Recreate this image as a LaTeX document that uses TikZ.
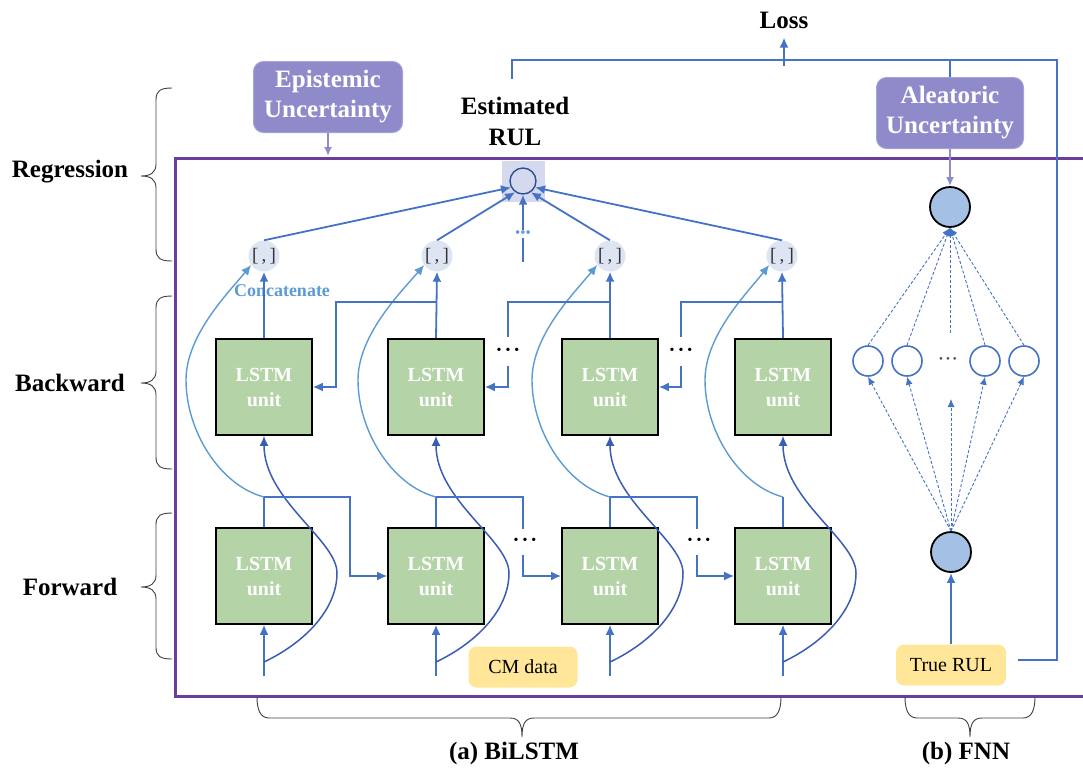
\documentclass[tikz,border=0pt]{standalone}
\usepackage{fontspec}
\setmainfont{Liberation Serif}
\usetikzlibrary{arrows.meta,calc}
\definecolor{mblue}{HTML}{4472C4}
\definecolor{lblue}{HTML}{5B9BD5}
\definecolor{dblue}{HTML}{3A5CB5}
\definecolor{fpurple}{HTML}{6A3D9A}
\definecolor{lav}{HTML}{8F8BCB}
\definecolor{lgreen}{HTML}{B4D3A6}
\definecolor{yel}{HTML}{FFE699}
\definecolor{concf}{HTML}{DDE4F2}
\definecolor{estf}{HTML}{D5D9EE}
\definecolor{estc}{HTML}{2F4F8F}
\definecolor{ofill}{HTML}{A4C0E4}
\newcommand\myvbrace[4]{% x0 ytop ybot ytip
\draw[brc] (#1,#2) .. controls (#1-12,#2) and (#1-16,#2+3) .. (#1-16,#2+12) -- (#1-16,#4-12) .. controls (#1-16,#4-3) and (#1-22,#4) .. (#1-31,#4) .. controls (#1-22,#4) and (#1-16,#4+3) .. (#1-16,#4+12) -- (#1-16,#3-12) .. controls (#1-16,#3-3) and (#1-12,#3) .. (#1,#3);}
\newcommand\myhbrace[4]{% y0 xleft xright xtip
\draw[brc] (#2,#1) .. controls (#2,#1+12) and (#2+3,#1+21) .. (#2+12,#1+21) -- (#4-12,#1+21) .. controls (#4-3,#1+21) and (#4,#1+27) .. (#4,#1+40) .. controls (#4,#1+27) and (#4+3,#1+21) .. (#4+12,#1+21) -- (#3-12,#1+21) .. controls (#3-3,#1+21) and (#3,#1+12) .. (#3,#1);}
\begin{document}
\begin{tikzpicture}[x=1pt,y=-1pt,
  lstm/.style={draw=black, line width=1.6pt, fill=lgreen, minimum width=96pt, minimum height=96pt, inner sep=0pt, text=white, font=\bfseries\fontsize{20}{25}\selectfont, align=center},
  conc/.style={circle, fill=concf, minimum size=31pt, inner sep=0pt, text=black!80, font=\fontsize{19}{19}\selectfont},
  conn/.style={draw=mblue, line width=1.8pt},
  arr/.style={conn, -{Latex[length=10pt,width=9pt]}},
  dcurve/.style={draw=dblue, line width=1.5pt, -{Latex[length=10pt,width=9pt]}},
  lcurve/.style={draw=lblue, line width=1.4pt, -{Latex[length=10pt,width=9pt]}},
  lab/.style={font=\bfseries\fontsize{25}{31}\selectfont, align=center, inner sep=2pt},
  unc/.style={rounded corners=10pt, fill=lav, draw=lav!80!white, line width=1pt, text=white, minimum height=71pt, inner sep=0pt, font=\bfseries\fontsize{25}{30}\selectfont, align=center},
  lavarr/.style={draw=lav, line width=2pt, -{Latex[length=9pt,width=8pt]}},
  databox/.style={rounded corners=8pt, fill=yel, font=\fontsize{20}{20}\selectfont, minimum height=41pt, inner sep=0pt},
  hid/.style={circle, draw=mblue, line width=1.6pt, fill=white, minimum size=30pt, inner sep=0pt},
  outn/.style={circle, draw=black, line width=1.8pt, fill=ofill, minimum size=40pt, inner sep=0pt},
  dsharr/.style={draw=mblue, line width=0.9pt, dash pattern=on 3pt off 2pt, -{Latex[length=8pt,width=7pt]}},
  lossl/.style={draw=mblue, line width=2.4pt},
  brc/.style={draw=black!75, line width=0.9pt},
  dots/.style={inner sep=0pt, font=\fontsize{14}{14}\selectfont}
]
\useasboundingbox (0,0) rectangle (1083,772);

% frame
\draw[fpurple, line width=3pt] (1090,158) -- (175,158) -- (175,696) -- (1090,696);

% side labels and braces
\node[lab] (lreg) at (70,172) {Regression};
\node[lab] (lbwd) at (70,383) {Backward};
\node[lab] (lfwd) at (70,587) {Forward};
\myvbrace{172}{88}{261}{176}
\myvbrace{172}{296}{469}{383}
\myvbrace{172}{513}{659}{587}
\myhbrace{697}{257}{781}{522}
\myhbrace{697}{905}{1035}{970}
\node[lab] (labA) at (514,753) {(a) BiLSTM};
\node[lab] (labB) at (966,753) {(b) FNN};

% top texts and boxes
\node[lab] (loss) at (784,20) {Loss};
\node[lab] (estl) at (515,121) {Estimated\\RUL};
\node[unc, minimum width=149pt] (ep) at (328,97) {Epistemic\\Uncertainty};
\node[unc, minimum width=147pt] (al) at (950,113) {Aleatoric\\Uncertainty};

% estimated RUL node
\node[fill=estf, minimum width=43pt, minimum height=41pt, inner sep=0pt] (estbg) at (523,181) {};
\node[circle, draw=estc, line width=1.4pt, minimum size=26pt, inner sep=0pt] (est) at (523,181) {};

% concat nodes
\node[conc] (c1) at (264,256) {[\,,\,]};
\node[conc] (c2) at (437,256) {[\,,\,]};
\node[conc] (c3) at (610,256) {[\,,\,]};
\node[conc] (c4) at (782,256) {[\,,\,]};
\node[font=\bfseries\fontsize{18}{18}\selectfont, text=lblue, inner sep=0pt] (concat) at (282,291) {Concatenate};

% LSTM units
\node[lstm] (b1) at (264,387) {LSTM\\unit};
\node[lstm] (b2) at (436,387) {LSTM\\unit};
\node[lstm] (b3) at (610,387) {LSTM\\unit};
\node[lstm] (b4) at (783,387) {LSTM\\unit};
\node[lstm] (f1) at (264,576) {LSTM\\unit};
\node[lstm] (f2) at (436,576) {LSTM\\unit};
\node[lstm] (f3) at (610,576) {LSTM\\unit};
\node[lstm] (f4) at (783,576) {LSTM\\unit};

% data boxes
\node[databox, minimum width=109pt] (cm) at (523,667) {CM data};
\node[databox, minimum width=110pt] (tr) at (951,665) {True RUL};

% FNN nodes
\node[outn] (o) at (950,207) {};
\node[outn] (i) at (951,552) {};
\node[hid] (h1) at (868,361) {};
\node[hid] (h2) at (907,361) {};
\node[hid] (h3) at (985,361) {};
\node[hid] (h4) at (1024,361) {};
\node[dots, text=black!70, font=\fontsize{11}{11}\selectfont] (hd) at (948,360) {•\hspace{3pt}•\hspace{3pt}•};

% columns
\foreach \i/\x in {1/264,2/436,3/610,4/783}{
  \coordinate (in\i) at (\x,676);
  \coordinate (s\i) at (\x,662);
  \coordinate (t\i) at (\x,497);
  \coordinate (u\i) at (\x,302);
  \draw[arr] (in\i) -- (f\i.south);
  \draw[dcurve] (s\i) .. controls ({\x+40},643) and ({\x+73},610) .. ({\x+73},573) .. controls ({\x+73},540) and (\x,500) .. (b\i.south);
  \draw[conn] (f\i.north) -- (t\i);
  \draw[lcurve] (t\i) .. controls ({\x-45},485) and ({\x-78},430) .. ({\x-78},380) .. controls ({\x-78},335) and ({\x-35},292) .. (c\i.215);
  \draw[arr] (b\i.north) -- (c\i.south);
}

% forward links
\coordinate (m12) at (350,576);
\draw[arr] (t1) -| (m12) -- (f2.west);
\coordinate (m23a) at (523,529);
\coordinate (m23b) at (523,555);
\coordinate (m23c) at (523,576);
\draw[conn] (t2) -| (m23a);
\node[dots] (fd23) at (525,541) {•\hspace{4pt}•\hspace{4pt}•};
\draw[arr] (m23b) -- (m23c) -- (f3.west);
\coordinate (m34a) at (697,529);
\coordinate (m34b) at (697,555);
\coordinate (m34c) at (697,576);
\draw[conn] (t3) -| (m34a);
\node[dots] (fd34) at (699,541) {•\hspace{4pt}•\hspace{4pt}•};
\draw[arr] (m34b) -- (m34c) -- (f4.west);

% backward links
\coordinate (n21) at (336,387);
\draw[arr] (u2) -| (n21) -- (b1.east);
\coordinate (n32a) at (508,337);
\coordinate (n32b) at (508,366);
\coordinate (n32c) at (508,387);
\draw[conn] (u3) -| (n32a);
\node[dots] (bd32) at (508,351) {•\hspace{4pt}•\hspace{4pt}•};
\draw[arr] (n32b) -- (n32c) -- (b2.east);
\coordinate (n43a) at (681,337);
\coordinate (n43b) at (681,366);
\coordinate (n43c) at (681,387);
\draw[conn] (u4) -| (n43a);
\node[dots] (bd43) at (681,351) {•\hspace{4pt}•\hspace{4pt}•};
\draw[arr] (n43b) -- (n43c) -- (b3.east);

% to estimated RUL
\draw[arr] (c1.north) -- (est.208);
\draw[arr] (c2.north) -- (est.235);
\draw[arr] (c3.north) -- (est.305);
\draw[arr] (c4.north) -- (est.332);
\coordinate (emid) at (523,262);
\draw[arr] (emid) -- (est.south);
\node[dots, text=lblue, font=\fontsize{15}{15}\selectfont, fill=white, inner sep=0.5pt] (edots) at (523,234) {•\hspace{0pt}•\hspace{0pt}•};

% uncertainty arrows
\coordinate (epT) at (328,156);
\draw[lavarr] (ep.south) -- (epT);
\draw[lavarr] (al.south) -- (o.north);

% FNN connections
\foreach \h in {h1,h2,h3,h4}{
  \draw[dsharr] (\h.north) -- (o.south);
  \draw[dsharr] (i.north) -- (\h.south);
}
\coordinate (mt) at (950,333);
\coordinate (mb) at (951,399);
\draw[dsharr] (mt) -- (o.south);
\draw[dsharr] (i.north) -- (mb);
\draw[arr, line width=2.5pt] (tr.north) -- (i.south);

% loss routing
\coordinate (lA) at (512,79);
\coordinate (lC) at (1057,60);
\coordinate (trR) at (1018,660);
\coordinate (aT) at (950,60);
\coordinate (lU) at (784,66);
\draw[lossl] (lA) |- (lC) |- (trR);
\draw[lossl] (al.north) -- (aT);
\draw[lossl, -{Latex[length=10pt,width=9pt]}, shorten >=7pt] (lU) -- (loss.south);
\end{tikzpicture}
\end{document}
